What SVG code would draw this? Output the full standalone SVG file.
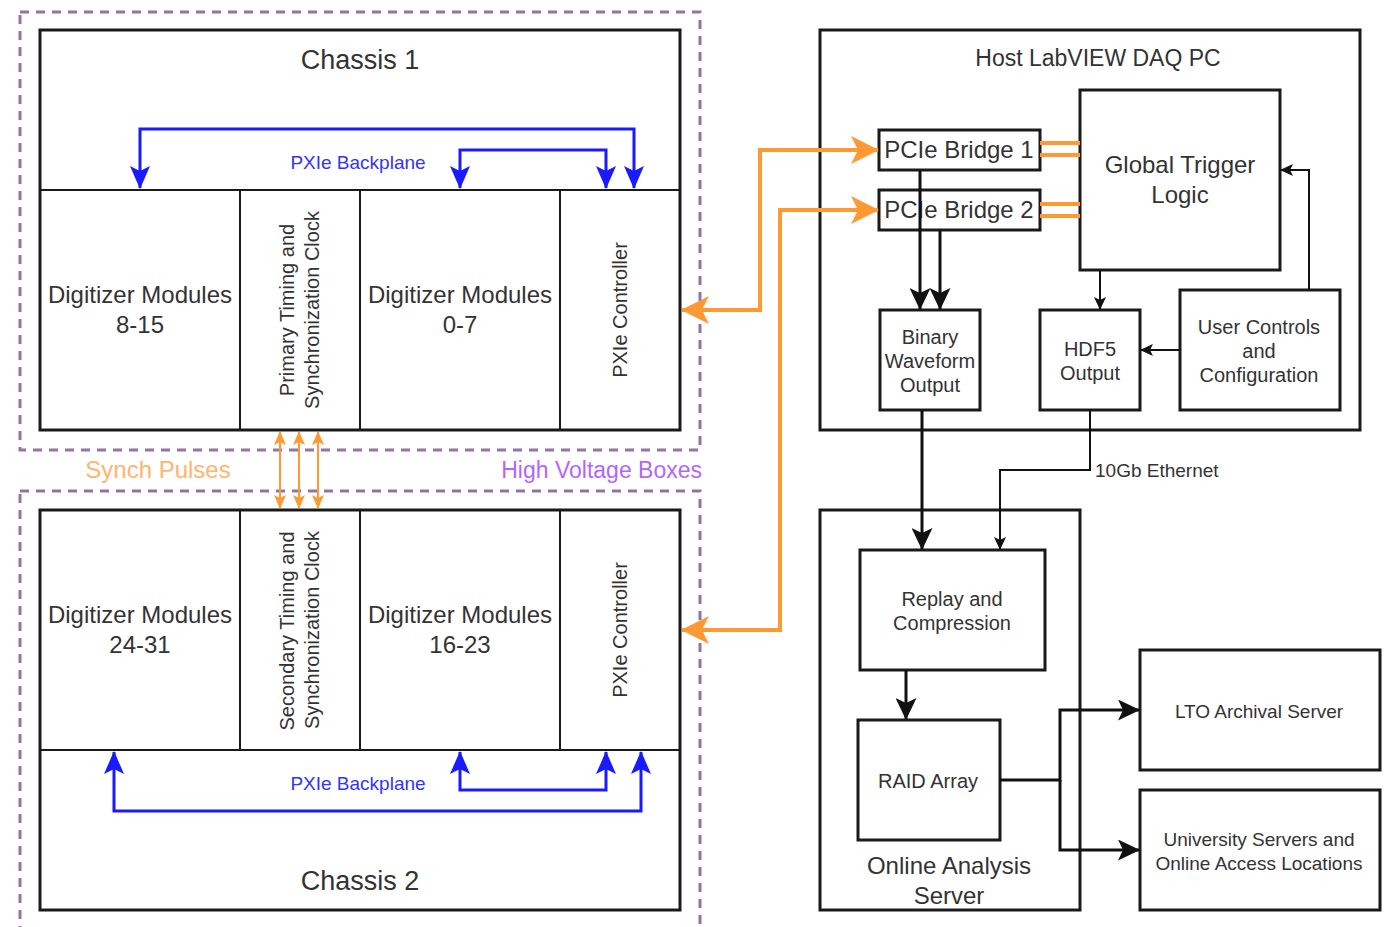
<svg xmlns="http://www.w3.org/2000/svg" width="1391" height="927" viewBox="0 0 1391 927">
  <style>
    text { font-family: "Liberation Sans", Arial, sans-serif; fill: #333333; }
    .mid { text-anchor: middle; }
    .box { fill: #ffffff; stroke: #1a1a1a; stroke-width: 3; }
    .cell { fill: none; stroke: #1a1a1a; stroke-width: 2; }
    .hv { fill: none; stroke: #9673A6; stroke-width: 3; stroke-dasharray: 9 7; }
    .blue { fill: none; stroke: #1a1aff; stroke-width: 3; marker-start: url(#ah-blue); marker-end: url(#ah-blue); }
    .orange { fill: none; stroke: #FF9933; stroke-width: 4; marker-start: url(#ah-orange); marker-end: url(#ah-orange); }
    .sync { fill: none; stroke: #FF9933; stroke-width: 2; marker-start: url(#ah-sync); marker-end: url(#ah-sync); }
    .bus { fill: none; stroke: #FF9933; stroke-width: 4; }
    .thick { fill: none; stroke: #111111; stroke-width: 3; }
    .thin { fill: none; stroke: #111111; stroke-width: 2; marker-end: url(#ah-thin); }
    .t27 { font-size: 27px; }
    .t24 { font-size: 24px; }
    .t23 { font-size: 23px; }
    .t20 { font-size: 20px; }
    .t19 { font-size: 19px; }
  </style>
  <defs>
    <marker id="ah-blue" viewBox="0 0 23 20" refX="22" refY="10" markerWidth="23" markerHeight="20" markerUnits="userSpaceOnUse" orient="auto-start-reverse">
      <path d="M0,0 L23,10 L0,20 L5,10 Z" fill="#1a1aff"/>
    </marker>
    <marker id="ah-orange" viewBox="0 0 28 28" refX="27" refY="14" markerWidth="28" markerHeight="28" markerUnits="userSpaceOnUse" orient="auto-start-reverse">
      <path d="M0,0 L28,14 L0,28 L7,14 Z" fill="#FF9933"/>
    </marker>
    <marker id="ah-sync" viewBox="0 0 14 12" refX="13" refY="6" markerWidth="14" markerHeight="12" markerUnits="userSpaceOnUse" orient="auto-start-reverse">
      <path d="M0,0 L14,6 L0,12 L3,6 Z" fill="#FF9933"/>
    </marker>
    <marker id="ah-black" viewBox="0 0 22 21" refX="21" refY="10.5" markerWidth="22" markerHeight="21" markerUnits="userSpaceOnUse" orient="auto">
      <path d="M0,0 L22,10.5 L0,21 L5,10.5 Z" fill="#111111"/>
    </marker>
    <marker id="ah-thin" viewBox="0 0 13 12" refX="12" refY="6" markerWidth="13" markerHeight="12" markerUnits="userSpaceOnUse" orient="auto">
      <path d="M0,0 L13,6 L0,12 L3,6 Z" fill="#111111"/>
    </marker>
  </defs>

  <rect width="1391" height="927" fill="#ffffff"/>

  <!-- high voltage enclosures -->
  <g id="hv-box-1"><rect class="hv" x="20" y="12" width="680" height="438"/></g>
  <g id="hv-box-2"><rect class="hv" x="20" y="491" width="680" height="470"/></g>

  <!-- chassis 1 -->
  <g id="chassis-1">
    <rect class="box" x="40" y="30" width="640" height="400"/>
    <path class="cell" d="M40,190 H680 M240,190 V430 M360,190 V430 M560,190 V430"/>
    <text class="mid t27" x="360" y="69">Chassis 1</text>
  </g>
  <g id="digitizer-8-15">
    <text class="mid t24" x="140" y="303">Digitizer Modules</text>
    <text class="mid t24" x="140" y="333">8-15</text>
  </g>
  <g id="primary-timing">
    <text class="mid t20" transform="translate(294,310) rotate(-90)">Primary Timing and</text>
    <text class="mid t20" transform="translate(319,310) rotate(-90)">Synchronization Clock</text>
  </g>
  <g id="digitizer-0-7">
    <text class="mid t24" x="460" y="303">Digitizer Modules</text>
    <text class="mid t24" x="460" y="333">0-7</text>
  </g>
  <g id="pxie-controller-1">
    <text class="mid t20" transform="translate(627,310) rotate(-90)">PXIe Controller</text>
  </g>

  <!-- chassis 2 -->
  <g id="chassis-2">
    <rect class="box" x="40" y="510" width="640" height="400"/>
    <path class="cell" d="M40,750 H680 M240,510 V750 M360,510 V750 M560,510 V750"/>
    <text class="mid t27" x="360" y="890">Chassis 2</text>
  </g>
  <g id="digitizer-24-31">
    <text class="mid t24" x="140" y="623">Digitizer Modules</text>
    <text class="mid t24" x="140" y="653">24-31</text>
  </g>
  <g id="secondary-timing">
    <text class="mid t20" transform="translate(294,631) rotate(-90)">Secondary Timing and</text>
    <text class="mid t20" transform="translate(319,630) rotate(-90)">Synchronization Clock</text>
  </g>
  <g id="digitizer-16-23">
    <text class="mid t24" x="460" y="623">Digitizer Modules</text>
    <text class="mid t24" x="460" y="653">16-23</text>
  </g>
  <g id="pxie-controller-2">
    <text class="mid t20" transform="translate(627,630) rotate(-90)">PXIe Controller</text>
  </g>

  <!-- host PC -->
  <g id="host-pc">
    <rect class="box" x="820" y="30" width="540" height="400"/>
    <text class="mid t23" x="1098" y="66">Host LabVIEW DAQ PC</text>
  </g>
  <g id="pcie-bridge-1">
    <rect class="box" x="879" y="130" width="161" height="40"/>
    <text class="mid t24" x="959" y="158">PCIe Bridge 1</text>
  </g>
  <g id="pcie-bridge-2">
    <rect class="box" x="879" y="190" width="161" height="40"/>
    <text class="mid t24" x="959" y="218">PCIe Bridge 2</text>
  </g>
  <g id="global-trigger">
    <rect class="box" x="1080" y="90" width="200" height="180"/>
    <text class="mid t24" x="1180" y="173">Global Trigger</text>
    <text class="mid t24" x="1180" y="203">Logic</text>
  </g>
  <g id="binary-output">
    <rect class="box" x="880" y="310" width="100" height="100"/>
    <text class="mid t20" x="930" y="344">Binary</text>
    <text class="mid t20" x="930" y="368">Waveform</text>
    <text class="mid t20" x="930" y="392">Output</text>
  </g>
  <g id="hdf5-output">
    <rect class="box" x="1040" y="310" width="100" height="100"/>
    <text class="mid t20" x="1090" y="356">HDF5</text>
    <text class="mid t20" x="1090" y="380">Output</text>
  </g>
  <g id="user-controls">
    <rect class="box" x="1180" y="290" width="160" height="120"/>
    <text class="mid t20" x="1259" y="334">User Controls</text>
    <text class="mid t20" x="1259" y="358">and</text>
    <text class="mid t20" x="1259" y="382">Configuration</text>
  </g>

  <!-- analysis server -->
  <g id="analysis-server">
    <rect class="box" x="820" y="510" width="260" height="400"/>
    <text class="mid t24" x="949" y="874">Online Analysis</text>
    <text class="mid t24" x="949" y="904">Server</text>
  </g>
  <g id="replay">
    <rect class="box" x="860" y="550" width="185" height="120"/>
    <text class="mid t20" x="952" y="606">Replay and</text>
    <text class="mid t20" x="952" y="630">Compression</text>
  </g>
  <g id="raid">
    <rect class="box" x="858" y="720" width="142" height="120"/>
    <text class="mid t20" x="928" y="788">RAID Array</text>
  </g>
  <g id="lto">
    <rect class="box" x="1140" y="650" width="240" height="120"/>
    <text class="mid t19" x="1259" y="718">LTO Archival Server</text>
  </g>
  <g id="university">
    <rect class="box" x="1140" y="790" width="240" height="120"/>
    <text class="mid t19" x="1259" y="846">University Servers and</text>
    <text class="mid t19" x="1259" y="870">Online Access Locations</text>
  </g>

  <!-- free labels -->
  <g id="labels">
    <text class="mid t24" x="158" y="478" style="fill:#FFB570">Synch Pulses</text>
    <text class="t23" x="702" y="478" text-anchor="end" style="fill:#B266FF">High Voltage Boxes</text>
  </g>

  <!-- connectors -->
  <g id="connectors">
    <!-- PXIe backplanes -->
    <path class="blue" d="M140,188 V129 H634 V188"/>
    <path class="blue" d="M460,188 V150 H606 V188"/>
    <text class="mid t19" x="358" y="169" style="fill:#3333ff">PXIe Backplane</text>
    <path class="blue" d="M114,752 V811 H641 V752"/>
    <path class="blue" d="M460,752 V790 H606 V752"/>
    <text class="mid t19" x="358" y="790" style="fill:#3333ff">PXIe Backplane</text>

    <!-- synch pulses -->
    <path class="sync" d="M280,432 V508"/>
    <path class="sync" d="M299,432 V508"/>
    <path class="sync" d="M318,432 V508"/>

    <!-- controllers to PCIe bridges -->
    <path class="orange" d="M682,310 H760 V150 H878"/>
    <path class="orange" d="M682,630 H780 V210 H878"/>

    <!-- bridges to trigger logic -->
    <path class="bus" d="M1040,143 H1080 M1040,155 H1080 M1040,204 H1080 M1040,216 H1080"/>

    <!-- bridges to binary output -->
    <path class="thick" d="M920,170 V309" marker-end="url(#ah-black)"/>
    <path class="thick" d="M940,230 V309" marker-end="url(#ah-black)"/>

    <!-- host internals -->
    <path class="thin" d="M1100,270 V309"/>
    <path class="thin" d="M1180,350 H1141"/>
    <path class="thin" d="M1309,290 V170 H1281"/>

    <!-- host to analysis server -->
    <path class="thick" d="M922,410 V549" marker-end="url(#ah-black)"/>
    <path class="thin" d="M1090,410 V470 H1000 V549"/>
    <text class="t19" x="1095" y="477">10Gb Ethernet</text>

    <!-- analysis server internals and outputs -->
    <path class="thick" d="M906,670 V719" marker-end="url(#ah-black)"/>
    <path class="thick" d="M1000,780 H1060 V710 H1139" marker-end="url(#ah-black)"/>
    <path class="thick" d="M1060,780 V850 H1139" marker-end="url(#ah-black)"/>
  </g>
</svg>
